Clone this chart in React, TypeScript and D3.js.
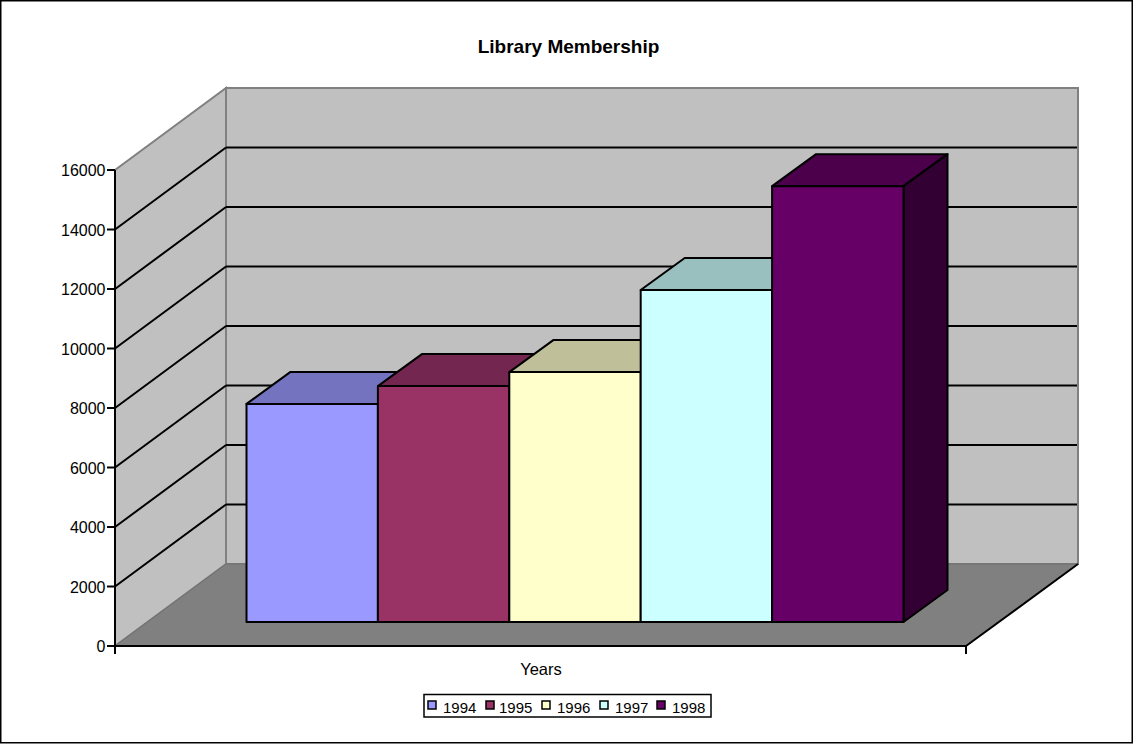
import React from "react";
import * as d3 from "d3";

const years = ["1994", "1995", "1996", "1997", "1998"];
const members = [7330, 7930, 8400, 11160, 14650];
const barColors = ["#9999ff", "#993366", "#ffffcc", "#ccffff", "#660066"];
const topColors = ["#7373bf", "#732650", "#bfbf99", "#99bfbf", "#4c004c"];
const sideColors = ["#4d4d80", "#4d1a33", "#808066", "#668080", "#330033"];
const yTicks = [0, 2000, 4000, 6000, 8000, 10000, 12000, 14000, 16000];

const W = 1133, H = 744;
const FONT = "'Liberation Sans', Arial, sans-serif";
const left = 115, right = 966, bottom = 646, top = 170;
const depthX = 111, depthY = 82;
const barDX = 44, barDY = 32;
const barBase = 622;
const legendSwatchX = [428, 486, 542, 600, 657];
const legendTextX = [443, 499, 557, 615, 672];

const y = d3.scaleLinear().domain([0, 16000]).range([bottom, top]);
const x = d3.scaleBand<string>().domain(years).range([246.5, 903.5]);
const pts = (p: number[][]) => p.map((q) => q.join(",")).join(" ");

export default function App() {
  const bw = x.bandwidth();
  return (
    <svg width={W} height={H} viewBox={`0 0 ${W} ${H}`} style={{ position: "absolute", left: 0, top: 0, fontFamily: FONT }}>
      <rect x={0.75} y={0.75} width={W - 1.5} height={H - 2} fill="#fff" stroke="#000" strokeWidth={1.5} />
      <text x={568.5} y={52.5} textAnchor="middle" fontSize={19} fontWeight="bold" fill="#000">Library Membership</text>

      {/* walls */}
      <polygon points={pts([[left + depthX, top - depthY], [right + depthX + 1, top - depthY], [right + depthX + 1, bottom - depthY], [left + depthX, bottom - depthY]])} fill="#c0c0c0" stroke="#808080" strokeWidth={2} />
      <polygon points={pts([[left, top], [left + depthX, top - depthY], [left + depthX, bottom - depthY], [left, bottom]])} fill="#c0c0c0" stroke="#808080" strokeWidth={2} />
      <polygon points={pts([[left, bottom], [left + depthX, bottom - depthY], [right + depthX + 1, bottom - depthY], [right, bottom]])} fill="#808080" stroke="#6e6e6e" strokeWidth={1} />

      {/* gridlines */}
      {yTicks.slice(1, -1).map((t) => (
        <g key={t} stroke="#000" strokeWidth={2} fill="none">
          <line x1={left} y1={y(t)} x2={left + depthX} y2={y(t) - depthY} />
          <line x1={left + depthX} y1={y(t) - depthY} x2={right + depthX} y2={y(t) - depthY} />
        </g>
      ))}
      <line x1={right} y1={bottom} x2={right + depthX + 1} y2={bottom - depthY} stroke="#000" strokeWidth={2} />

      {/* bars */}
      {years.map((yr, i) => {
        const x0 = x(yr)!;
        const x1 = x0 + bw;
        const h = y(0) - y(members[i]);
        const yt = barBase - h;
        return (
          <g key={yr} stroke="#000" strokeWidth={2} strokeLinejoin="round">
            <polygon points={pts([[x0, yt], [x0 + barDX, yt - barDY], [x1 + barDX, yt - barDY], [x1, yt]])} fill={topColors[i]} />
            <polygon points={pts([[x1, yt], [x1 + barDX, yt - barDY], [x1 + barDX, barBase - barDY], [x1, barBase]])} fill={sideColors[i]} />
            <rect x={x0} y={yt} width={bw} height={h} fill={barColors[i]} />
          </g>
        );
      })}

      {/* axes */}
      <g stroke="#000" strokeWidth={2}>
        <line x1={left} y1={top} x2={left} y2={bottom + 8} />
        <line x1={left} y1={bottom} x2={right} y2={bottom} />
        <line x1={right} y1={bottom} x2={right} y2={bottom + 8} />
        {yTicks.map((t) => <line key={t} x1={left - 8} y1={y(t)} x2={left} y2={y(t)} />)}
      </g>
      {yTicks.map((t) => (
        <text key={t} x={105.5} y={y(t) + 6} textAnchor="end" fontSize={16} fill="#000">{t}</text>
      ))}
      <text x={541} y={675} textAnchor="middle" fontSize={16.5} fill="#000">Years</text>

      {/* legend */}
      <rect x={424} y={694.5} width={287} height={22.5} fill="#fff" stroke="#000" strokeWidth={1.5} />
      {years.map((yr, i) => (
        <g key={yr}>
          <rect x={legendSwatchX[i]} y={701} width={8} height={8} fill={barColors[i]} stroke="#000" strokeWidth={1.5} />
          <text x={legendTextX[i]} y={713} fontSize={15} fill="#000">{yr}</text>
        </g>
      ))}
    </svg>
  );
}
